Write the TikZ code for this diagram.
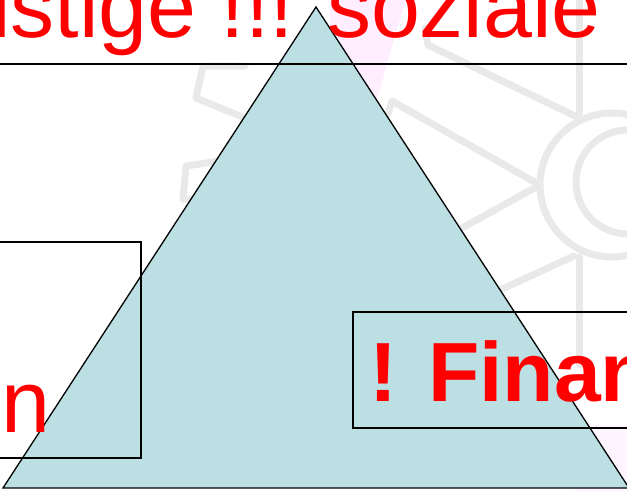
\documentclass[tikz,border=0pt]{standalone}
\usepackage{fontspec}
\setmainfont{Liberation Sans}
\definecolor{tri}{RGB}{187,223,227}
\definecolor{wm}{RGB}{233,233,233}
\definecolor{pinkwm}{RGB}{255,238,255}
\definecolor{txtred}{RGB}{255,0,0}
\tikzset{
  wmline/.style={draw=wm, line width=7pt, line join=round, line cap=round},
  bigtext/.style={text=txtred, inner sep=0pt, anchor=base west, font=\fontsize{88}{90}\selectfont},
  boldtext/.style={text=txtred, inner sep=0pt, anchor=base west, font=\fontsize{84}{86}\selectfont\bfseries},
  framebox/.style={draw=black, line width=2pt, inner sep=0pt, outer sep=0pt},
  tristyle/.style={fill=tri, draw=black, line width=1.3pt, line join=miter},
  ruleline/.style={draw=black, line width=2pt}
}
\begin{document}
\begin{tikzpicture}[x=1pt,y=-1pt]
\useasboundingbox (0,0) rectangle (627,491);
\begin{scope}
\clip (0,0) rectangle (627,491);
% faint background marks
\fill[pinkwm] (330,-2) -- (406,-2) -- (368,130) -- (330,130) -- cycle;
\fill[pinkwm!60] (575,425) rectangle (630,495);
\begin{scope}[wmline]
  \draw (612,185) circle[radius=72];
  \draw (628,182) circle[radius=52];
  \draw (579,-5) -- (579,113);
  \draw (579,257) -- (579,365);
  \draw (425,28) -- (428,45) -- (577,117);
  \draw (388,114) -- (392,101) -- (538,184);
  \draw (538,186) -- (462,228);
  \draw (574,256) -- (500,290);
  \draw (245,66) -- (203,66) -- (196,98) -- (250,120);
  \draw (220,161) -- (186,166) -- (183,199) -- (200,199);
\end{scope}
% pyramid
\coordinate (tl) at (3,488);
\coordinate (tt) at (316,7);
\coordinate (tr) at (629,488);
\draw[tristyle] (tl) -- (tt) -- (tr) -- cycle;
% rule
\coordinate (hl) at (-5,64);
\coordinate (hr) at (632,64);
\draw[ruleline] (hl) -- (hr);
% boxes
\node[framebox, minimum width=291pt, minimum height=216pt] (lbox) at (-4.5,350) {};
\node[framebox, minimum width=447pt, minimum height=116pt] (rbox) at (576.5,370) {};
% texts
\node[bigtext] (top) at (-9,37) {istige !!! soziale};
\node[bigtext] (ln) at (1,432) {n};
\node[boldtext] (fin) at (369,401) {! Finan};
\end{scope}
\end{tikzpicture}
\end{document}
